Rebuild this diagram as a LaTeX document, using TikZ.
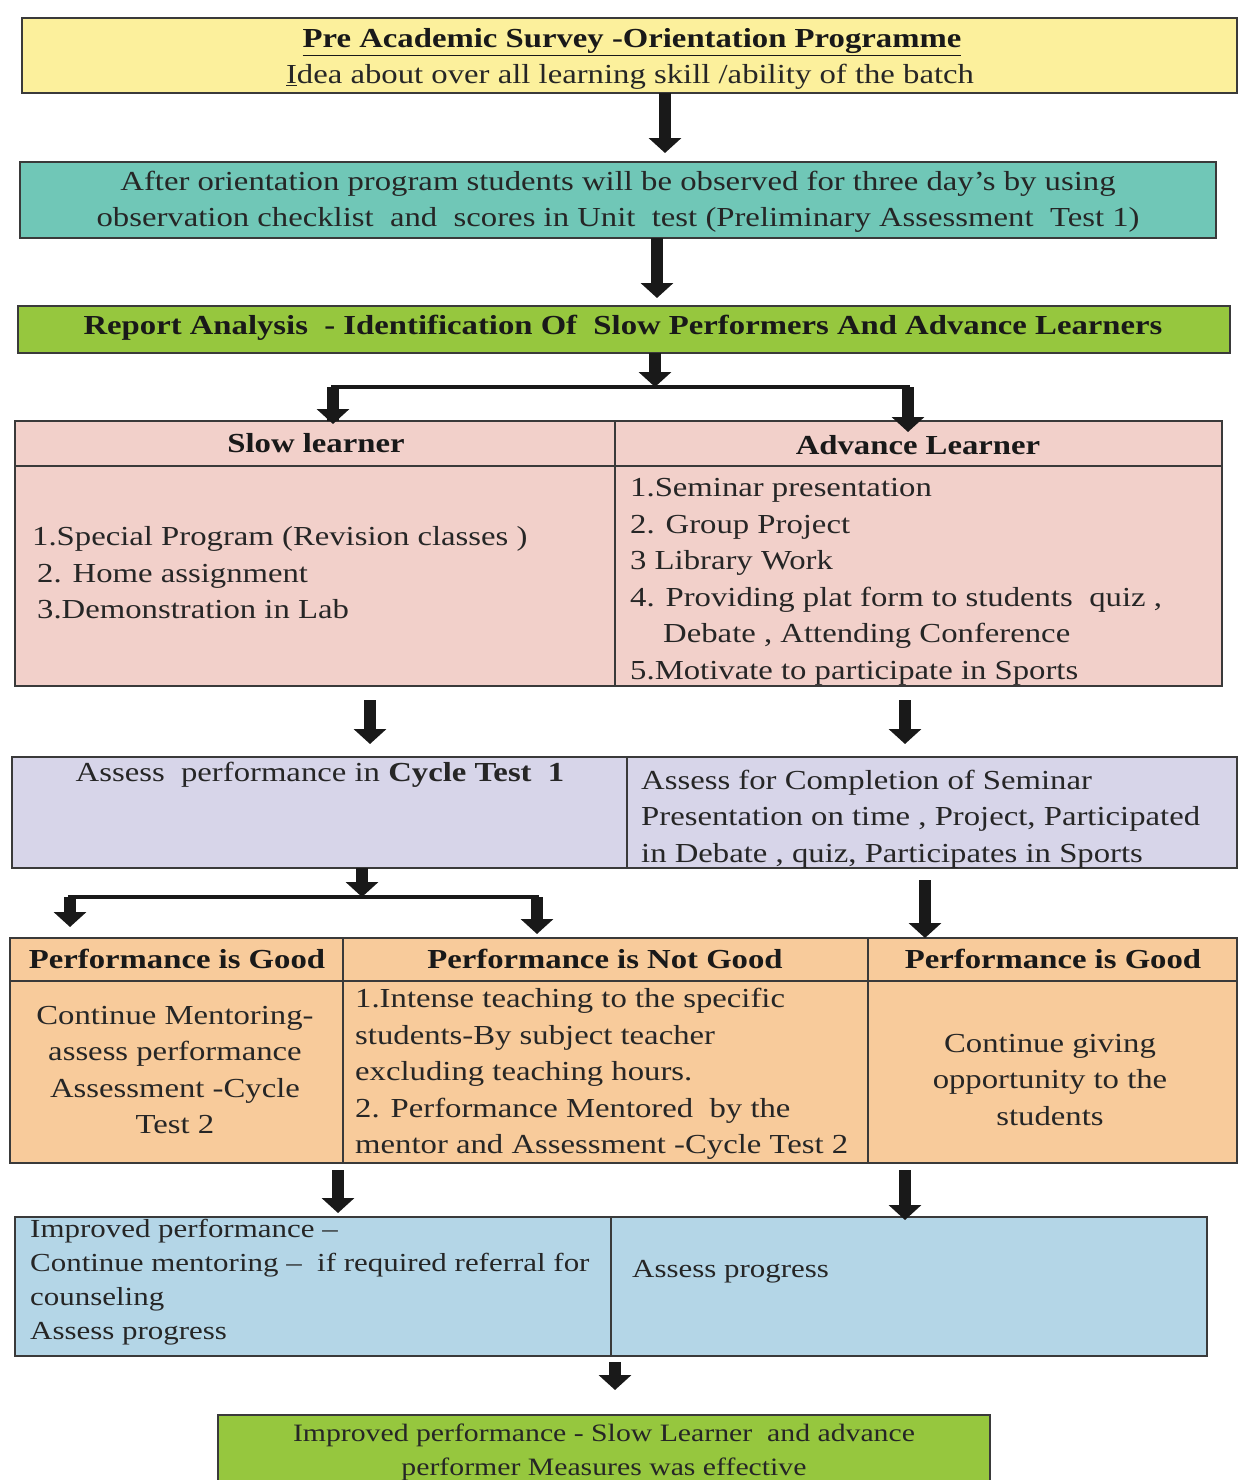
\documentclass[tikz,border=0pt]{standalone}
\usepackage{fontspec}
\setmainfont{Liberation Serif}[FakeStretch=1.19]
\usetikzlibrary{arrows.meta}
\definecolor{cyel}{HTML}{FCF09C}
\definecolor{cteal}{HTML}{70C7B7}
\definecolor{cgreen}{HTML}{96C73E}
\definecolor{cpink}{HTML}{F2D0CA}
\definecolor{clav}{HTML}{D7D5E9}
\definecolor{cpeach}{HTML}{F8CB9B}
\definecolor{cblue}{HTML}{B4D6E7}
\definecolor{cline}{HTML}{3A3A3A}
\begin{document}
\begin{tikzpicture}[x=1pt,y=-1pt,
  box/.style={draw=cline, line width=2pt, inner sep=0pt, outer sep=0pt, anchor=north west},
  divl/.style={draw=cline, line width=2pt},
  arr/.style={line width=12pt, draw=black!90, -{Triangle[width=32pt,length=15pt]}},
  junc/.style={line width=4pt, draw=black!90},
  txt/.style={inner sep=0pt, font=\fontsize{27.5}{36.5}\selectfont, text=black!85},
  btxt/.style={inner sep=0pt, font=\fontsize{27.5}{36.5}\selectfont\bfseries, text=black!90}]
\useasboundingbox (0,0) rectangle (1239,1480);
\fill[white] (0,0) rectangle (1239,1480);

% boxes
\node[box, fill=cyel,   minimum width=1215pt, minimum height=75pt]  (b1) at (22,18) {};
\node[box, fill=cteal,  minimum width=1196pt, minimum height=76pt]  (b2) at (20,162) {};
\node[box, fill=cgreen, minimum width=1212pt, minimum height=47pt]  (b3) at (18,306) {};
\node[box, fill=cpink,  minimum width=1207pt, minimum height=265pt] (b4) at (15,421) {};
\node[box, fill=clav,   minimum width=1225pt, minimum height=111pt] (b5) at (12,757) {};
\node[box, fill=cpeach, minimum width=1227pt, minimum height=225pt] (b6) at (10,938) {};
\node[box, fill=cblue,  minimum width=1192pt, minimum height=139pt] (b7) at (15,1217) {};
\node[box, fill=cgreen, minimum width=772pt,  minimum height=90pt]  (b8) at (218,1415) {};

% table dividers
\draw[divl] (b4.west |- 0,466) -- (b4.east |- 0,466);
\draw[divl] (b4.north -| 615,0) -- (b4.south -| 615,0);
\draw[divl] (b5.north -| 627,0) -- (b5.south -| 627,0);
\draw[divl] (b6.west |- 0,981) -- (b6.east |- 0,981);
\draw[divl] (b6.north -| 343,0) -- (b6.south -| 343,0);
\draw[divl] (b6.north -| 868,0) -- (b6.south -| 868,0);
\draw[divl] (b7.north -| 611,0) -- (b7.south -| 611,0);

% texts
\node[btxt] (t1a) at (632,42) {\underline{Pre Academic Survey -Orientation Programme}};
\node[txt] (t1b) at (630,77) {\underline{I}dea about over all learning skill /ability of the batch};
\node[txt, align=center] (t2) at (618,202) {After orientation program students will be observed for three day's by using\\observation checklist\ \ and\ \ scores in Unit\ \ test (Preliminary Assessment\ \ Test 1)};
\node[btxt] (t3) at (623,328) {Report Analysis\ \ - Identification Of\ \ Slow Performers And Advance Learners};

\node[btxt] (t4h1) at (316,443) {Slow learner};
\node[btxt] (t4h2) at (918,445) {Advance Learner};
\node[txt, align=left, anchor=west] (t4l) at (32,573) {1.Special Program (Revision classes )\\\hspace*{5pt}2. Home assignment\\\hspace*{5pt}3.Demonstration in Lab};
\node[txt, align=left, anchor=west] (t4r) at (630,582) {1.Seminar presentation\\2. Group Project\\3 Library Work\\4. Providing plat form to students\ \ quiz ,\\\hspace*{33pt}Debate , Attending Conference\\5.Motivate to participate in Sports};

\node[txt] (t5l) at (320,775) {Assess\ \ performance in \textbf{Cycle Test\ \ 1}};
\node[txt, align=left, anchor=west] (t5r) at (641,819) {Assess for Completion of Seminar\\Presentation on time , Project, Participated\\in Debate , quiz, Participates in Sports};

\node[btxt] (t6h1) at (177,959) {Performance is Good};
\node[btxt] (t6h2) at (605,959) {Performance is Not Good};
\node[btxt] (t6h3) at (1053,959) {Performance is Good};
\node[txt, align=center] (t6c1) at (175,1070) {Continue Mentoring-\\assess performance\\Assessment -Cycle\\Test 2};
\node[txt, align=left, anchor=west] (t6c2) at (355,1074) {1.Intense teaching to the specific\\students-By subject teacher\\excluding teaching hours.\\2. Performance Mentored\ \ by the\\mentor and Assessment -Cycle Test 2};
\node[txt, align=center] (t6c3) at (1050,1080) {Continue giving\\opportunity to the\\students};

\node[txt, align=left, anchor=west, font=\fontsize{26}{34}\selectfont] (t7l) at (30,1282) {Improved performance --\\Continue mentoring --\ \ if required referral for\\counseling\\Assess progress};
\node[txt, anchor=west, font=\fontsize{26}{34}\selectfont] (t7r) at (632,1272) {Assess progress};

\node[txt, align=center, font=\fontsize{25}{34}\selectfont] (t8) at (604,1452) {Improved performance - Slow Learner\ \ and advance\\performer Measures was effective};

% connectors
\coordinate (j1) at (655,387);
\coordinate (j1l) at (333,387);
\coordinate (j1r) at (908,387);
\coordinate (j2) at (362,897);
\coordinate (j2l) at (70,897);
\coordinate (j2r) at (537,897);

\draw[arr] (b1.south -| 665,0) -- (665,153);
\draw[arr] (b2.south -| 657,0) -- (657,298);
\draw[arr] (b3.south -| j1) -- (j1);
\draw[junc] ([xshift=-2pt]j1l) -- ([xshift=2pt]j1r);
\draw[arr] (j1l) -- (b4.north -| j1l) -- ++(0,3);
\draw[arr] (j1r) -- (908,432);
\draw[arr] (b4.south -| 370,0) ++(0,14) -- (370,744);
\draw[arr] (b4.south -| 905,0) ++(0,14) -- (905,744);
\draw[arr] (b5.south -| j2) -- (j2);
\draw[junc] ([xshift=-2pt]j2l) -- ([xshift=2pt]j2r);
\draw[arr] (j2l) -- (70,927);
\draw[arr] (j2r) -- (537,934);
\draw[arr] (b5.south -| 925,0) ++(0,12) -- (925,938);
\draw[arr] (b6.south -| 338,0) ++(0,7) -- (338,1213);
\draw[arr] (b6.south -| 905,0) ++(0,7) -- (905,1220);
\draw[arr] (b7.south -| 615,0) ++(0,6) -- (615,1390);
\end{tikzpicture}
\end{document}
